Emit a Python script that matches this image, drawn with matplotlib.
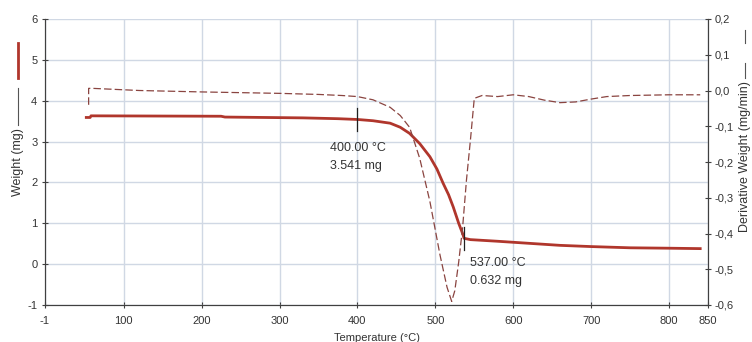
import numpy as np
import matplotlib
matplotlib.use("Agg")
import matplotlib.pyplot as plt
from matplotlib.lines import Line2D
from matplotlib.ticker import FuncFormatter

plt.rcParams['font.family'] = ['Liberation Sans', 'DejaVu Sans']
plt.rcParams['axes.unicode_minus'] = False

# TGA weight curve
temp_w = [52, 57, 58, 225, 230, 330, 375, 400, 420, 442, 455, 467, 480, 493,
          502, 510, 517, 523, 530, 535, 537, 545, 580, 620, 660, 700, 750, 800, 840]
weight = [3.59, 3.59, 3.63, 3.62, 3.60, 3.58, 3.56, 3.541, 3.51, 3.45, 3.35, 3.20, 2.95, 2.63,
          2.33, 1.98, 1.70, 1.40, 1.00, 0.75, 0.632, 0.60, 0.56, 0.51, 0.46, 0.43, 0.40, 0.39, 0.38]

# derivative weight curve
temp_d = [55, 55, 60, 80, 120, 200, 250, 300, 350, 380, 400, 420, 442, 455, 467, 480, 493,
          506, 515, 521, 525, 530, 535, 540, 545, 550, 560, 580, 600, 620, 640, 660, 680,
          700, 720, 750, 800, 840]
deriv = [-0.04, 0.006, 0.006, 0.004, 0.0, -0.004, -0.006, -0.008, -0.011, -0.014, -0.017,
         -0.026, -0.047, -0.07, -0.103, -0.19, -0.31, -0.46, -0.55, -0.59, -0.56, -0.48,
         -0.384, -0.25, -0.14, -0.022, -0.014, -0.017, -0.012, -0.017, -0.027, -0.034, -0.032,
         -0.024, -0.017, -0.014, -0.012, -0.012]

x_ticks = [-1, 100, 200, 300, 400, 500, 600, 700, 800, 850]
y_ticks = [-1, 0, 1, 2, 3, 4, 5, 6]
y2_ticks = [-0.6, -0.5, -0.4, -0.3, -0.2, -0.1, 0.0, 0.1, 0.2]

# marked points
marks_t = [400, 537]
marks_w = [3.541, 0.632]

red = "#b0362c"
dred = "#8a4440"
grid_c = "#d0d8e4"
axis_c = "#404040"
txt_c = "#333333"

fig = plt.figure(figsize=(7.52, 3.42), dpi=100)
ax = fig.add_axes([45 / 752, 1 - 305 / 342, (708 - 45) / 752, (305 - 19) / 342])
ax2 = ax.twinx()

ax.set_xlim(-1, 850)
ax.set_ylim(-1, 6)
ax2.set_ylim(-0.6, 0.2)

ax.set_xticks(x_ticks)
ax.set_yticks(y_ticks)
ax2.set_yticks(y2_ticks)
ax2.yaxis.set_major_formatter(FuncFormatter(lambda v, p: f"{v:.1f}".replace(".", ",").replace("-0,0", "0,0")))

ax.grid(True, color=grid_c, lw=1)
ax.set_axisbelow(True)

ax.plot(temp_w, weight, color=red, lw=2, zorder=3)
ax2.plot(temp_d, deriv, color=dred, lw=0.9, dashes=(6, 2.5), zorder=3)

# cursor marks
for t, w in zip(marks_t, marks_w):
    ax.plot([t, t], [w - 0.28, w + 0.28], color="#202020", lw=0.9, zorder=4)
ax.text(365, 2.84, "400.00 °C", fontsize=9, color=txt_c, va="center")
ax.text(365, 2.40, "3.541 mg", fontsize=9, color=txt_c, va="center")
ax.text(545, 0.02, "537.00 °C", fontsize=9, color=txt_c, va="center")
ax.text(545, -0.42, "0.632 mg", fontsize=9, color=txt_c, va="center")

for a in (ax, ax2):
    for s in a.spines.values():
        s.set_color(axis_c)
    a.spines['top'].set_visible(False)
    a.tick_params(colors=axis_c, labelcolor=txt_c, labelsize=8, length=4, direction="inout", width=0.8)
ax.tick_params(axis="x", pad=6)
ax2.tick_params(axis="y", pad=3)

ax.set_xlabel("Temperature (°C)", fontsize=8, color=txt_c, labelpad=5)

# legend-like axis labels
fig.text(18 / 752, 1 - 162 / 342, "Weight (mg)", rotation=90, fontsize=9, color=txt_c,
         ha="center", va="center")
fig.add_artist(Line2D([18 / 752] * 2, [1 - 43 / 342, 1 - 78 / 342], color=red, lw=2))
fig.add_artist(Line2D([18 / 752] * 2, [1 - 88 / 342, 1 - 125 / 342], color="#555555", lw=0.8))

fig.text(745 / 752, 1 - 157 / 342, "Derivative Weight (mg/min)", rotation=90, fontsize=9,
         color=txt_c, ha="center", va="center")
fig.add_artist(Line2D([745 / 752] * 2, [1 - 63 / 342, 1 - 78 / 342], color="#555555", lw=0.8))
fig.add_artist(Line2D([745 / 752] * 2, [1 - 30 / 342, 1 - 43 / 342], color="#555555", lw=0.8))

fig.savefig("out.png", dpi=100, facecolor="white")
